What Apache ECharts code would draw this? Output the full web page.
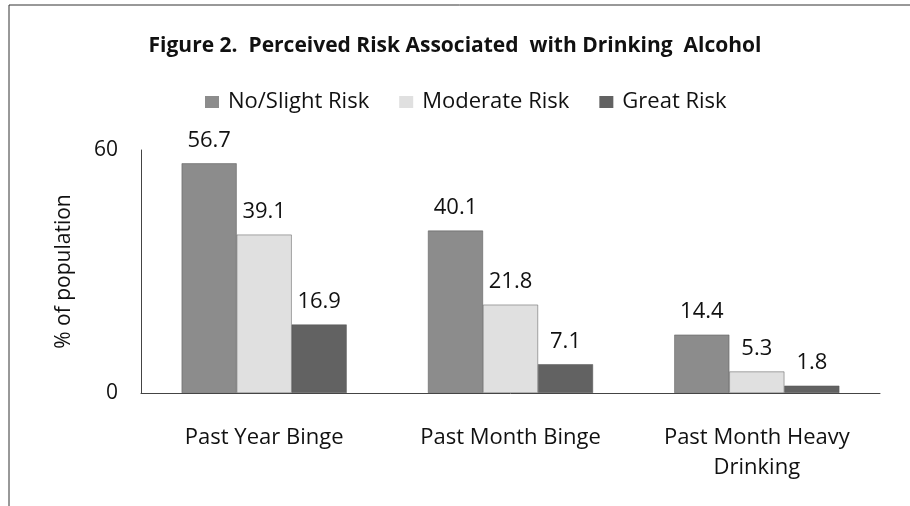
<!DOCTYPE html>
<html>
<head>
<meta charset="utf-8">
<script src="https://cdn.jsdelivr.net/npm/echarts@6/dist/echarts.min.js"></script>
<style>
  html, body { margin: 0; padding: 0; background: #fff; }
  #chart { width: 910px; height: 506px; }
</style>
</head>
<body>
<div id="chart"></div>
<script>
const categories = ['Past Year Binge', 'Past Month Binge', 'Past Month Heavy\nDrinking'];
const seriesNames = ['No/Slight Risk', 'Moderate Risk', 'Great Risk'];
const noSlightRisk = [56.7, 40.1, 14.4];
const moderateRisk = [39.1, 21.8, 5.3];
const greatRisk = [16.9, 7.1, 1.8];
const seriesColors = ['#8c8c8c', '#e0e0e0', '#626262'];

const chart = echarts.init(document.getElementById('chart'));
const font = '"Open Sans", "Liberation Sans", sans-serif';

const option = {
  animation: false,
  textStyle: { fontFamily: font },
  title: {
    text: 'Figure 2.  Perceived Risk Associated  with Drinking  Alcohol',
    left: 'center',
    top: 31,
    textStyle: { fontSize: 21, fontWeight: 'bold', color: '#111', fontFamily: font }
  },
  legend: {
    data: seriesNames,
    top: 86,
    left: 200,
    itemWidth: 14,
    itemHeight: 12,
    itemGap: 30,
    icon: 'rect',
    itemStyle: { borderWidth: 0 },
    textStyle: { fontSize: 22, color: '#111', fontFamily: font, padding: [0, 0, 0, 4] }
  },
  grid: { left: 141, right: 30, top: 150, bottom: 113 },
  xAxis: {
    type: 'category',
    data: categories,
    axisLine: { lineStyle: { color: '#444', width: 1 } },
    axisTick: { show: false },
    axisLabel: { fontSize: 22, color: '#111', margin: 30, lineHeight: 30, fontFamily: font }
  },
  yAxis: {
    type: 'value',
    min: 0,
    max: 60,
    interval: 60,
    name: '% of population',
    nameLocation: 'middle',
    nameGap: 66,
    nameTextStyle: { fontSize: 21, color: '#111', fontFamily: font },
    axisLine: { show: true, lineStyle: { color: '#444', width: 1 } },
    axisTick: { show: false },
    splitLine: { show: false },
    axisLabel: { fontSize: 21, color: '#111', margin: 23, fontFamily: font }
  },
  series: [noSlightRisk, moderateRisk, greatRisk].map((vals, i) => ({
    name: seriesNames[i],
    type: 'bar',
    data: vals,
    barGap: '0%',
    barCategoryGap: '33%',
    itemStyle: { color: seriesColors[i], borderColor: '#555', borderWidth: 0.5 },
    label: {
      show: true,
      position: 'top',
      distance: 12,
      fontSize: 22,
      color: '#111',
      fontFamily: font
    }
  })),
  graphic: [
    { type: 'line', shape: { x1: 9, y1: 5, x2: 910, y2: 5 }, style: { stroke: '#333', lineWidth: 1 } },
    { type: 'line', shape: { x1: 9, y1: 5, x2: 9, y2: 506 }, style: { stroke: '#333', lineWidth: 1 } }
  ]
};

chart.setOption(option);
</script>
</body>
</html>
